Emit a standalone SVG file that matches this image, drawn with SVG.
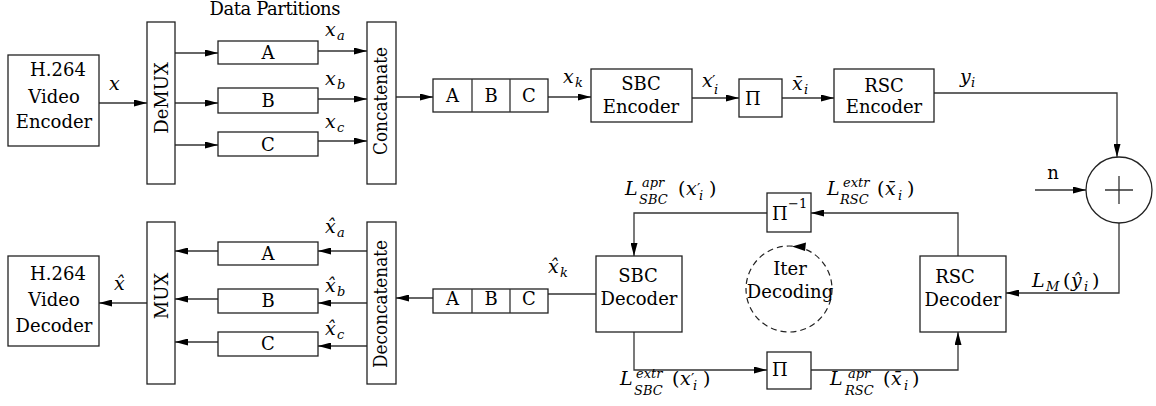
<svg xmlns="http://www.w3.org/2000/svg" width="1156" height="406" viewBox="0 0 1156 406" font-family="'DejaVu Serif', serif">
<style>
.b{fill:#fff;stroke:#222;stroke-width:1.3}
.c{fill:none;stroke:#333;stroke-width:1.3}
.arr{marker-end:url(#ah)}
.t{font-family:'DejaVu Serif',serif;font-size:18px;fill:#000}
.mid{text-anchor:middle}
.m{font-style:italic;font-size:19px}
.s{font-size:13px}
.u{font-style:normal}
</style>
<defs>
<marker id="ah" viewBox="0 0 13 7" refX="13" refY="3.5" markerWidth="13" markerHeight="7" markerUnits="userSpaceOnUse" orient="auto">
<path d="M0,0 L13,3.5 L0,7 z" fill="#000"/>
</marker>
</defs>
<rect width="1156" height="406" fill="#fff"/>

<g id="connectors">
<path class="c arr" d="M99,103 H147"/>
<path class="c arr" d="M175,53 H218"/>
<path class="c arr" d="M175,103 H218"/>
<path class="c arr" d="M175,145 H218"/>
<path class="c arr" d="M318,51 H367"/>
<path class="c arr" d="M318,99 H367"/>
<path class="c arr" d="M318,141 H367"/>
<path class="c arr" d="M396,97 H433"/>
<path class="c arr" d="M548,97 H591"/>
<path class="c arr" d="M692,98 H739"/>
<path class="c arr" d="M782,98 H834"/>
<path class="c arr" d="M934,93 H1117 V157"/>
<path class="c arr" d="M1035,190 H1086"/>
<path class="c arr" d="M1119,223 V293 H1006"/>
<path class="c arr" d="M958,256 V213 H811"/>
<path class="c arr" d="M767,213 H634 V256"/>
<path class="c arr" d="M634,332 V370 H767"/>
<path class="c arr" d="M811,370 H958 V332"/>
<path class="c" d="M596,294 H548"/>
<path class="c arr" d="M433,298 H396"/>
<path class="c arr" d="M367,251 H318"/>
<path class="c arr" d="M367,303 H318"/>
<path class="c arr" d="M367,346 H318"/>
<path class="c arr" d="M218,251 H175"/>
<path class="c arr" d="M218,299 H175"/>
<path class="c arr" d="M218,342 H175"/>
<path class="c arr" d="M147,303 H99"/>
</g>

<g id="video-encoder">
<rect class="b" x="8" y="55" width="91" height="91"/>
<text class="t mid" x="58" y="76">H.264</text>
<text class="t mid" x="54" y="103">Video</text>
<text class="t mid" x="54" y="128">Encoder</text>
</g>
<g id="demux">
<rect class="b" x="147" y="22" width="28" height="162"/>
<text class="t mid" transform="translate(168,98) rotate(-90)">DeMUX</text>
</g>
<text id="data-partitions-label" class="t mid" x="275" y="15" font-size="17" textLength="131">Data Partitions</text>
<g id="part-a-top"><rect class="b" x="218" y="41" width="100" height="23"/><text class="t mid" x="268" y="59">A</text></g>
<g id="part-b-top"><rect class="b" x="218" y="88" width="100" height="25"/><text class="t mid" x="268" y="107">B</text></g>
<g id="part-c-top"><rect class="b" x="218" y="132" width="100" height="24"/><text class="t mid" x="268" y="151">C</text></g>
<g id="concatenate">
<rect class="b" x="367" y="22" width="29" height="162"/>
<text class="t mid" transform="translate(387,101) rotate(-90)" textLength="108" lengthAdjust="spacingAndGlyphs">Concatenate</text>
</g>
<g id="abc-top">
<rect class="b" x="433" y="79" width="115" height="33"/>
<path class="c" d="M472,79 V112 M510,79 V112"/>
<text class="t mid" x="452.5" y="102">A</text>
<text class="t mid" x="491" y="102">B</text>
<text class="t mid" x="529" y="102">C</text>
</g>
<g id="sbc-encoder">
<rect class="b" x="591" y="69" width="101" height="53"/>
<text class="t mid" x="641" y="90">SBC</text>
<text class="t mid" x="641" y="113">Encoder</text>
</g>
<g id="interleaver-top">
<rect class="b" x="739" y="79" width="43" height="38"/>
<text class="t" x="745" y="105">Π</text>
</g>
<g id="rsc-encoder">
<rect class="b" x="834" y="69" width="100" height="53"/>
<text class="t mid" x="884" y="92">RSC</text>
<text class="t mid" x="884" y="113">Encoder</text>
</g>
<g id="adder">
<circle cx="1119" cy="190" r="33" fill="#fff" stroke="#222" stroke-width="1.3"/>
<path class="c" d="M1105,190 H1133 M1119,176 V204"/>
</g>
<text id="noise-label" class="t mid" x="1053" y="179">n</text>

<g id="rsc-decoder">
<rect class="b" x="920" y="256" width="86" height="76"/>
<text class="t mid" x="955" y="283">RSC</text>
<text class="t mid" x="963" y="306">Decoder</text>
</g>
<g id="deinterleaver">
<rect class="b" x="767" y="193" width="44" height="39"/>
<text class="t"><tspan x="772" y="220">Π</tspan><tspan class="s" x="788" y="208">−1</tspan></text>
</g>
<g id="interleaver-bottom">
<rect class="b" x="767" y="352" width="44" height="37"/>
<text class="t" x="772" y="376">Π</text>
</g>
<g id="sbc-decoder">
<rect class="b" x="596" y="256" width="86" height="76"/>
<text class="t mid" x="638" y="282">SBC</text>
<text class="t mid" x="639" y="305">Decoder</text>
</g>
<g id="iter-decoding">
<circle cx="789" cy="289" r="43" fill="none" stroke="#222" stroke-width="1.2" stroke-dasharray="6,4"/>
<path d="M792,246.5 L806,242.5 L805,251 z" fill="#000"/>
<text class="t mid" x="790" y="275" font-size="16">Iter</text>
<text class="t mid" x="790" y="298" font-size="16">Decoding</text>
</g>
<g id="abc-bottom">
<rect class="b" x="433" y="289" width="115" height="24"/>
<path class="c" d="M472,289 V313 M510,289 V313"/>
<text class="t mid" x="452.5" y="305">A</text>
<text class="t mid" x="491" y="305">B</text>
<text class="t mid" x="529" y="305">C</text>
</g>
<g id="deconcatenate">
<rect class="b" x="367" y="222" width="29" height="162"/>
<text class="t mid" transform="translate(387,304) rotate(-90)" textLength="128" lengthAdjust="spacingAndGlyphs">Deconcatenate</text>
</g>
<g id="part-a-bottom"><rect class="b" x="218" y="242" width="100" height="23"/><text class="t mid" x="268" y="260">A</text></g>
<g id="part-b-bottom"><rect class="b" x="218" y="289" width="100" height="24"/><text class="t mid" x="268" y="307">B</text></g>
<g id="part-c-bottom"><rect class="b" x="218" y="332" width="100" height="24"/><text class="t mid" x="268" y="350">C</text></g>
<g id="mux">
<rect class="b" x="147" y="222" width="28" height="162"/>
<text class="t mid" transform="translate(168,296) rotate(-90)">MUX</text>
</g>
<g id="video-decoder">
<rect class="b" x="8" y="256" width="91" height="90"/>
<text class="t mid" x="58" y="280">H.264</text>
<text class="t mid" x="54" y="306">Video</text>
<text class="t mid" x="54" y="332">Decoder</text>
</g>

<g id="labels">
<text class="t m" x="109" y="90">x</text>
<text class="t m"><tspan x="325" y="36">x</tspan><tspan class="s" x="337" y="40">a</tspan></text>
<text class="t m"><tspan x="325" y="85">x</tspan><tspan class="s" x="337" y="89">b</tspan></text>
<text class="t m"><tspan x="325" y="128">x</tspan><tspan class="s" x="337" y="132">c</tspan></text>
<text class="t m"><tspan x="563" y="83">x</tspan><tspan class="s" x="575" y="87">k</tspan></text>
<text class="t m"><tspan x="702" y="87">x</tspan><tspan class="u" x="712" y="86" font-size="15">′</tspan><tspan class="s" x="714" y="94">i</tspan></text>
<text class="t m"><tspan x="792" y="90">x̄</tspan><tspan class="s" x="804" y="94">i</tspan></text>
<text class="t m"><tspan x="960" y="83">y</tspan><tspan class="s" x="971" y="87">i</tspan></text>

<text class="t m"><tspan x="625" y="195">L</tspan><tspan class="s" x="642" y="187">apr</tspan><tspan class="s" x="639" y="204">SBC</tspan><tspan class="u" x="678" y="195">(</tspan><tspan x="686" y="195">x</tspan><tspan class="u" x="697" y="194" font-size="15">′</tspan><tspan class="s" x="699" y="200">i</tspan><tspan class="u" x="709" y="195">)</tspan></text>
<text class="t m"><tspan x="827" y="195">L</tspan><tspan class="s" x="843" y="187">extr</tspan><tspan class="s" x="840" y="204">RSC</tspan><tspan class="u" x="877" y="195">(</tspan><tspan x="885" y="195">x̄</tspan><tspan class="s" x="898" y="200">i</tspan><tspan class="u" x="907" y="195">)</tspan></text>
<text class="t m"><tspan x="620" y="385">L</tspan><tspan class="s" x="636" y="378">extr</tspan><tspan class="s" x="634" y="395">SBC</tspan><tspan class="u" x="672" y="385">(</tspan><tspan x="680" y="385">x</tspan><tspan class="u" x="691" y="384" font-size="15">′</tspan><tspan class="s" x="693" y="390">i</tspan><tspan class="u" x="703" y="385">)</tspan></text>
<text class="t m"><tspan x="830" y="385">L</tspan><tspan class="s" x="848" y="378">apr</tspan><tspan class="s" x="845" y="395">RSC</tspan><tspan class="u" x="883" y="385">(</tspan><tspan x="891" y="385">x̄</tspan><tspan class="s" x="904" y="390">i</tspan><tspan class="u" x="912" y="385">)</tspan></text>
<text class="t m"><tspan x="1032" y="287">L</tspan><tspan class="s" x="1046" y="291">M</tspan><tspan class="u" x="1063" y="287">(</tspan><tspan x="1071" y="287">ŷ</tspan><tspan class="s" x="1084" y="291">i</tspan><tspan class="u" x="1092" y="287">)</tspan></text>

<text class="t m"><tspan x="548" y="273">x̂</tspan><tspan class="s" x="560" y="277">k</tspan></text>
<text class="t m"><tspan x="325" y="233">x̂</tspan><tspan class="s" x="337" y="237">a</tspan></text>
<text class="t m"><tspan x="325" y="292">x̂</tspan><tspan class="s" x="337" y="296">b</tspan></text>
<text class="t m"><tspan x="325" y="335">x̂</tspan><tspan class="s" x="337" y="339">c</tspan></text>
<text class="t m" x="114" y="290">x̂</text>
</g>
</svg>
